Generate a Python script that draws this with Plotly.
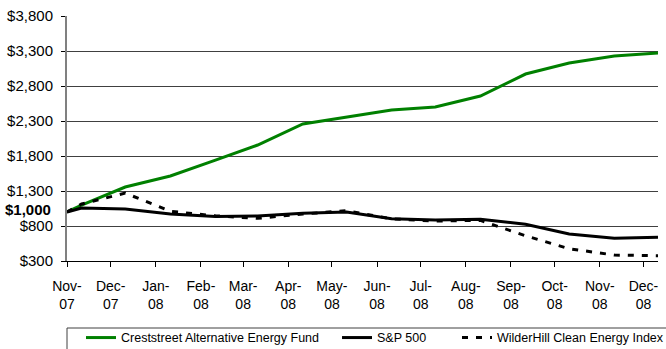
import plotly.graph_objects as go

dates = ["2007-11-01", "2007-11-11", "2007-12-11", "2008-01-11", "2008-02-11",
         "2008-03-11", "2008-04-11", "2008-05-11", "2008-06-11", "2008-07-11",
         "2008-08-11", "2008-09-11", "2008-10-11", "2008-11-11", "2008-12-11"]
fund = [1000, 1100, 1357, 1514, 1740, 1957, 2257, 2357, 2457, 2500, 2657, 2971, 3129, 3229, 3271]
sp500 = [1000, 1057, 1043, 971, 935, 943, 981, 1000, 905, 886, 896, 824, 686, 624, 639]
wilder = [1000, 1114, 1270, 1010, 945, 910, 971, 1018, 903, 871, 880, 660, 475, 385, 375]

tick_dates = ["2007-11-01", "2007-12-01", "2008-01-01", "2008-02-01", "2008-03-01",
              "2008-04-01", "2008-05-01", "2008-06-01", "2008-07-01", "2008-08-01",
              "2008-09-01", "2008-10-01", "2008-11-01", "2008-12-01"]
tick_text = ["Nov-<br>07", "Dec-<br>07", "Jan-<br>08", "Feb-<br>08", "Mar-<br>08",
             "Apr-<br>08", "May-<br>08", "Jun-<br>08", "Jul-<br>08", "Aug-<br>08",
             "Sep-<br>08", "Oct-<br>08", "Nov-<br>08", "Dec-<br>08"]
y_ticks = [300, 800, 1300, 1800, 2300, 2800, 3300, 3800]
y_text = ["$300", "$800", "$1,300", "$1,800", "$2,300", "$2,800", "$3,300", "$3,800"]

FONT = "Liberation Sans, Arial, sans-serif"

fig = go.Figure()
fig.add_trace(go.Scatter(x=dates, y=fund, mode="lines", name="Creststreet Alternative Energy Fund",
                         line=dict(color="#008000", width=3), legend="legend"))
fig.add_trace(go.Scatter(x=dates, y=sp500, mode="lines", name="S&P 500",
                         line=dict(color="#000000", width=3), legend="legend2"))
fig.add_trace(go.Scatter(x=dates, y=wilder, mode="lines", name="WilderHill Clean Energy Index",
                         line=dict(color="#000000", width=3, dash="6px,8px"), legend="legend3"))

leg_common = dict(orientation="h", xanchor="left", y=-0.314, yanchor="middle",
                  font=dict(size=12.5, family=FONT), bgcolor="rgba(0,0,0,0)", borderwidth=0)

fig.update_layout(
    width=666, height=349,
    margin=dict(l=67, r=8, t=16, b=88, autoexpand=False),
    paper_bgcolor="white", plot_bgcolor="white",
    font=dict(family=FONT, color="#000000", size=15),
    showlegend=True,
    legend=dict(x=0.0237, **leg_common),
    legend2=dict(x=0.4569, **leg_common),
    legend3=dict(x=0.6599, **leg_common),
    xaxis=dict(type="date", range=["2007-11-01", "2008-12-11"],
               tickmode="array", tickvals=tick_dates, ticktext=tick_text,
               ticks="outside", ticklen=5, tickcolor="#000000", tickwidth=1,
               showgrid=False, showline=True, linecolor="#000000", linewidth=1,
               zeroline=False, tickangle=0, tickfont=dict(size=14),
               ticklabelstandoff=7),
    yaxis=dict(range=[300, 3800], tickmode="array", tickvals=y_ticks, ticktext=y_text,
               ticks="outside", ticklen=4, tickcolor="#000000",
               showgrid=True, gridcolor="#404040", gridwidth=1,
               showline=True, linecolor="#808080", linewidth=2,
               zeroline=False, ticklabelstandoff=5, tickfont=dict(size=15)),
    shapes=[dict(type="rect", xref="paper", yref="paper", x0=0, x1=1.05,
                 y0=-0.41, y1=-0.2735, line=dict(color="#404040", width=1),
                 fillcolor="rgba(0,0,0,0)", layer="below")],
    annotations=[dict(text="<b>$1,000</b>", xref="paper", yref="y", x=-0.0237, y=1000,
                      xanchor="right", yanchor="middle", yshift=3, showarrow=False,
                      font=dict(size=15, family=FONT))],
)

fig.write_html("out.html")
